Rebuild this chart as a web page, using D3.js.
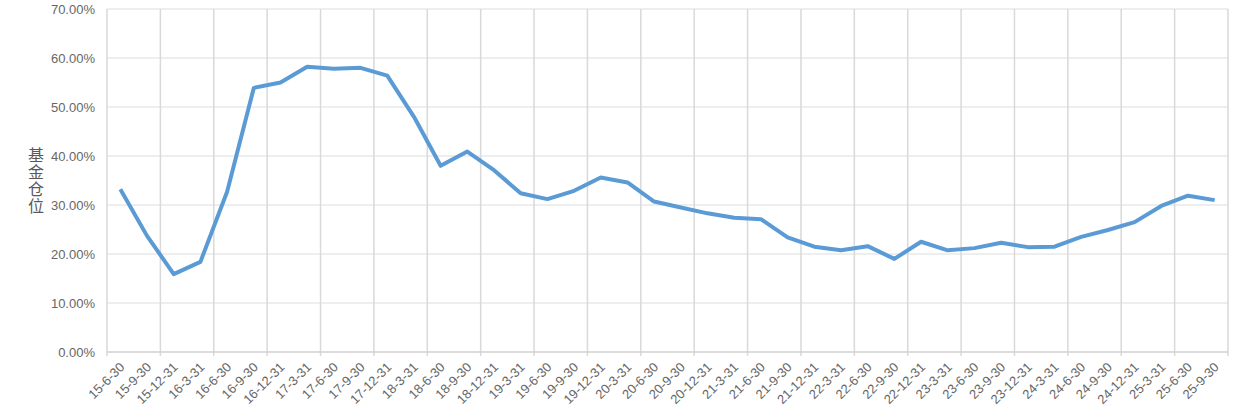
<!DOCTYPE html>
<html>
<head>
<meta charset="utf-8">
<script src="https://cdn.jsdelivr.net/npm/d3@7"></script>
<style>
  html, body { margin: 0; padding: 0; background: #fff; }
  svg text { font-family: "Liberation Sans", Arial, sans-serif; }
</style>
</head>
<body>
<div id="chart"></div>
<script>
'use strict'
// 报告期
let dates = ['15-6-30','15-9-30','15-12-31','16-3-31','16-6-30','16-9-30','16-12-31','17-3-31',
  '17-6-30','17-9-30','17-12-31','18-3-31','18-6-30','18-9-30','18-12-31','19-3-31','19-6-30',
  '19-9-30','19-12-31','20-3-31','20-6-30','20-9-30','20-12-31','21-3-31','21-6-30','21-9-30',
  '21-12-31','22-3-31','22-6-30','22-9-30','22-12-31','23-3-31','23-6-30','23-9-30','23-12-31',
  '24-3-31','24-6-30','24-9-30','24-12-31','25-3-31','25-6-30','25-9-30'];
// 基金仓位 (%)
let position = [33.2, 23.7, 15.9, 18.4, 32.7, 53.9, 55.0, 58.2,
  57.8, 58.0, 56.4, 48.0, 38.0, 40.9, 37.1, 32.4, 31.2,
  32.9, 35.6, 34.6, 30.7, 29.5, 28.3, 27.4, 27.1, 23.4,
  21.5, 20.75, 21.6, 19.0, 22.5, 20.75, 21.2, 22.3, 21.4,
  21.5, 23.5, 24.9, 26.5, 29.8, 31.9, 31.0];
let yTicks = [0, 10, 20, 30, 40, 50, 60, 70];
let yTitle = '基金仓位';

let W = 1235, H = 420;
let margin = {top: 9, right: 7, bottom: 68, left: 107};
let width = W - margin.left - margin.right;
let height = H - margin.top - margin.bottom;

let x = d3.scaleBand().domain(dates).range([0, width]).padding(0);
let y = d3.scaleLinear().domain([0, 70]).range([height, 0]);

let svg = d3.select('#chart').append('svg')
  .attr('width', W).attr('height', H);
let g = svg.append('g')
  .attr('transform', 'translate(' + margin.left + ',' + margin.top + ')');

// horizontal grid
g.selectAll('.hgrid')
  .data(yTicks.filter(function(d) { return d > 0; }))
  .enter().append('line')
  .attr('class', 'hgrid')
  .attr('x1', 0).attr('x2', width)
  .attr('y1', function(d) { return y(d); })
  .attr('y2', function(d) { return y(d); })
  .attr('stroke', '#e8e8e8')
  .attr('stroke-width', 1.5);

// vertical grid every two categories (Excel style)
let vIdx = d3.range(0, dates.length + 1, 2);
function bandEdge(i) { return i < dates.length ? x(dates[i]) : width; }
g.selectAll('.vgrid')
  .data(vIdx)
  .enter().append('line')
  .attr('class', 'vgrid')
  .attr('x1', function(d) { return bandEdge(d); })
  .attr('x2', function(d) { return bandEdge(d); })
  .attr('y1', 0).attr('y2', height + 4)
  .attr('stroke', '#d9d9d9')
  .attr('stroke-width', 1.5);

// x axis line
g.append('line')
  .attr('x1', 0).attr('x2', width)
  .attr('y1', height).attr('y2', height)
  .attr('stroke', '#d0d0d0')
  .attr('stroke-width', 1.5);

// y axis labels
let yAxis = d3.axisLeft(y)
  .tickValues(yTicks)
  .tickSize(0)
  .tickPadding(12)
  .tickFormat(function(d) { return d.toFixed(2) + '%'; });
let yAxisG = g.append('g').call(yAxis);
yAxisG.select('.domain').remove();
yAxisG.selectAll('text')
  .attr('fill', '#666')
  .attr('font-size', '13px');

// x axis labels
g.selectAll('.xlab')
  .data(dates)
  .enter().append('text')
  .attr('class', 'xlab')
  .attr('text-anchor', 'end')
  .attr('fill', '#666')
  .attr('font-size', '13px')
  .attr('transform', function(d) {
    let cx = x(d) + x.bandwidth() / 2 + 5;
    return 'translate(' + cx + ',' + (height + 16) + ') rotate(-45)';
  })
  .text(function(d) { return d; });

// y title, vertical
svg.append('text')
  .attr('x', 36)
  .attr('y', 181)
  .attr('text-anchor', 'middle')
  .attr('fill', '#595959')
  .attr('font-size', '16px')
  .style('font-family', '"Noto Sans CJK SC", sans-serif')
  .style('writing-mode', 'vertical-rl')
  .style('letter-spacing', '1px')
  .text(yTitle);

// line
let line = d3.line()
  .x(function(d, i) { return x(dates[i]) + x.bandwidth() / 2; })
  .y(function(d) { return y(d); });
g.append('path')
  .datum(position)
  .attr('d', line)
  .attr('fill', 'none')
  .attr('stroke', '#5b9bd5')
  .attr('stroke-width', 4)
  .attr('stroke-linejoin', 'round');
</script>
</body>
</html>
